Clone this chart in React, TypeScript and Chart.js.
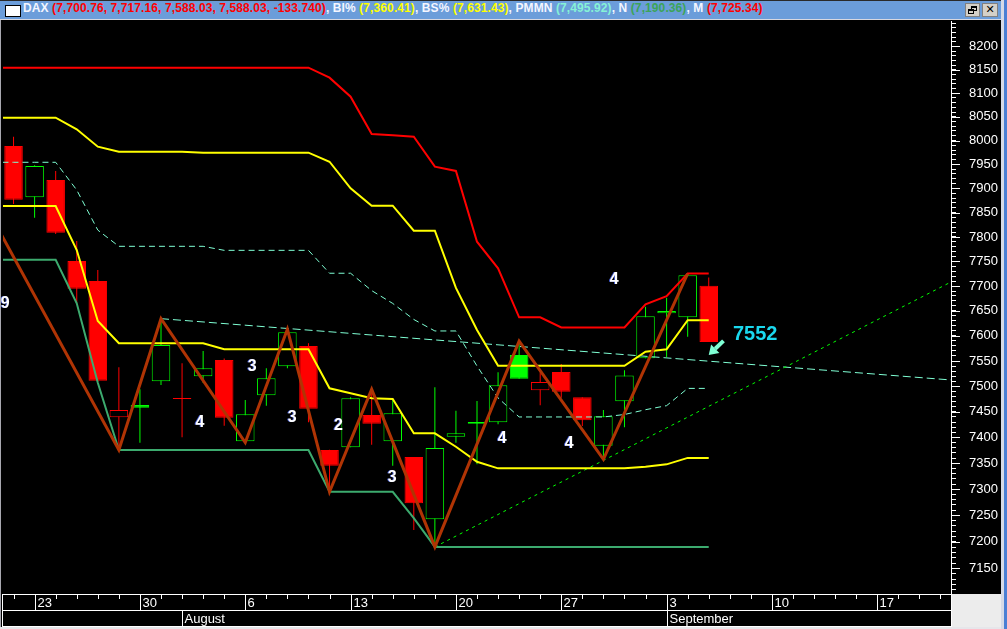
import React, { useEffect, useRef } from 'react';
import { Chart, registerables } from 'chart.js';

Chart.register(...registerables);

// ---------------- data ----------------
// trading days shown on the x axis (Jul 20 .. Sep 20), index 0..44
const dayNumbers = [20, 23, 24, 25, 26, 27, 30, 31, 1, 2, 3, 6, 7, 8, 9, 10, 13, 14, 15, 16, 17, 20, 21, 22, 23, 24, 27, 28, 29, 30, 31, 3, 4, 5, 6, 7, 10, 11, 12, 13, 14, 17, 18, 19, 20];
const weekLabelIdx = [1, 6, 11, 16, 21, 26, 31, 36, 41];
const monthLabels = ['August', 'September'];
const monthLabelIdx = [8, 31];

// daily candles (index 0 = Jul 20)
const opens = [7988.5, 7881.6, 7917.5, 7750.8, 7710.3, 7439.3, 7463.3, 7509.9, 7477.0, 7519.8, 7552.0, 7392.4, 7482.4, 7539.5, 7579.9, 7375.6, 7380.8, 7443.8, 7392.4, 7362.0, 7242.6, 7401.4, 7430.0, 7429.4, 7561.9, 7492.2, 7528.3, 7478.4, 7383.9, 7470.6, 7555.4, 7645.2, 7637.2, 7700.76];
const highs = [8008.0, 7948.0, 7936.3, 7791.9, 7732.5, 7537.5, 7494.0, 7634.4, 7545.4, 7569.9, 7555.0, 7472.9, 7535.6, 7613.2, 7585.2, 7376.0, 7478.4, 7494.1, 7472.9, 7362.0, 7498.0, 7452.1, 7471.0, 7527.7, 7589.5, 7527.7, 7544.0, 7478.4, 7453.5, 7531.9, 7658.4, 7676.4, 7725.34, 7717.16];
const lows = [7867.7, 7839.5, 7806.0, 7665.3, 7509.0, 7376.0, 7389.7, 7502.6, 7400.2, 7506.5, 7422.8, 7390.0, 7462.0, 7535.6, 7429.4, 7295.2, 7380.8, 7385.8, 7345.2, 7222.2, 7190.36, 7389.7, 7347.9, 7425.5, 7515.0, 7462.8, 7477.7, 7422.2, 7357.6, 7419.7, 7555.4, 7558.0, 7598.4, 7588.03];
const closes = [7876.6, 7946.7, 7808.7, 7694.7, 7511.1, 7453.5, 7458.0, 7581.8, 7475.0, 7535.6, 7438.5, 7445.1, 7515.8, 7607.2, 7456.1, 7345.2, 7476.5, 7426.7, 7447.0, 7273.1, 7379.4, 7408.0, 7426.7, 7502.0, 7515.0, 7508.5, 7489.4, 7433.3, 7441.2, 7521.4, 7639.2, 7650.0, 7721.77, 7588.03];

// indicator lines, starting one trading day before the first candle (index -1 = Jul 19)
const lineStartIndex = -1;
const mLine = [8154.5, 8154.5, 8154.5, 8154.5, 8154.5, 8154.5, 8154.5, 8154.5, 8154.5, 8154.5, 8154.5, 8154.5, 8154.5, 8154.5, 8154.5, 8154.5, 8133.1, 8092.6, 8013.6, 8010.9, 8008.0, 7945.2, 7936.3, 7790.2, 7736.0, 7637.2, 7637.2, 7616.8, 7616.8, 7616.8, 7616.8, 7663.3, 7679.6, 7725.34, 7725.34];
const bsLine = [8048.1, 8048.1, 8048.1, 8048.1, 8023.6, 7987.0, 7976.6, 7976.6, 7976.6, 7976.6, 7974.5, 7974.5, 7974.5, 7974.5, 7974.5, 7974.5, 7955.6, 7900.2, 7864.3, 7864.3, 7812.8, 7812.8, 7696.2, 7611.8, 7540.7, 7540.7, 7540.7, 7540.7, 7540.7, 7540.7, 7540.7, 7568.5, 7573.3, 7631.43, 7631.43];
const biLine = [7863.7, 7863.7, 7863.7, 7863.7, 7773.3, 7629.8, 7585.3, 7585.3, 7585.3, 7585.3, 7585.3, 7573.3, 7573.3, 7573.3, 7573.3, 7573.3, 7496.1, 7486.4, 7476.5, 7475.1, 7408.0, 7408.0, 7382.0, 7352.9, 7340.2, 7340.2, 7340.2, 7340.2, 7340.2, 7340.2, 7340.2, 7343.3, 7347.9, 7360.41, 7360.41];
const pmmnLine = [7954.4, 7954.4, 7954.4, 7954.4, 7896.7, 7814.0, 7780.8, 7780.8, 7780.8, 7780.8, 7780.8, 7772.6, 7772.6, 7772.6, 7772.6, 7772.6, 7726.0, 7726.0, 7690.9, 7665.0, 7632.8, 7609.8, 7609.8, 7540.1, 7477.1, 7439.9, 7439.9, 7439.9, 7439.9, 7439.9, 7444.7, 7454.1, 7462.0, 7495.92, 7495.92];
const nLine = [7753.5, 7753.5, 7753.5, 7753.5, 7665.3, 7507.0, 7375.6, 7375.6, 7375.6, 7375.6, 7375.6, 7375.6, 7375.6, 7375.6, 7375.6, 7375.6, 7295.2, 7295.2, 7295.2, 7295.2, 7245.0, 7190.36, 7190.36, 7190.36, 7190.36, 7190.36, 7190.36, 7190.36, 7190.36, 7190.36, 7190.36, 7190.36, 7190.36, 7190.36, 7190.36];

// zig-zag swing line
const zigzagX = [-1, 5, 7, 11, 13, 15, 17, 20, 24, 28, 32];
const zigzagY = [7838, 7375.6, 7634.4, 7390, 7613.2, 7295.2, 7494.1, 7190.36, 7589.5, 7357.6, 7725.34];

// trend lines
const resistX = [7, 44.5];
const resistY = [7634.4, 7512.5];
const supportX = [20, 44.5];
const supportY = [7190.36, 7708.3];

// wave count labels
const waveLabels = ['9', '4', '3', '3', '2', '3', '4', '4', '4'];
const waveX = [-0.4, 8.85, 11.33, 13.23, 15.42, 17.98, 23.2, 26.38, 28.51];
const waveY = [7664, 7428.7, 7538.7, 7439.3, 7422.2, 7322.2, 7398.3, 7388.6, 7712.3];

// projection annotation
const projText = '7552';
const projLabelX = 34.15;
const projLabelY = 7602;
const arrowX = [33.7, 33.0];
const arrowY = [7590, 7562];

// y axis
const yMin = 7102;
const yMax = 8255;
const yLabels = [7150, 7200, 7250, 7300, 7350, 7400, 7450, 7500, 7550, 7600, 7650, 7700, 7750, 7800, 7850, 7900, 7950, 8000, 8050, 8100, 8150, 8200];
const yMinorStep = 10;

// ---------------- styles ----------------
const UP = '#00ff00';
const DOWN = '#ff0000';
const YELLOW = '#ffff00';
const AQUA = '#7fffd4';
const NGREEN = '#3caa6e';
const ZIG = '#b03404';
const FONT = '"Liberation Sans", Arial, sans-serif';

function fmt(v: number, d = 2) {
  return v.toLocaleString('en-US', { minimumFractionDigits: d, maximumFractionDigits: d });
}

const overlayPlugin = {
  id: 'overlay',
  afterDatasetsDraw(chart: any) {
    const { ctx, scales } = chart;
    const x = scales.x;
    const y = scales.y;
    ctx.save();
    // wave labels
    ctx.font = 'bold 16px ' + FONT;
    ctx.textAlign = 'center';
    ctx.textBaseline = 'middle';
    waveLabels.forEach((t, i) => {
      const px = x.getPixelForValue(waveX[i]);
      const py = y.getPixelForValue(waveY[i]);
      ctx.fillStyle = 'rgba(80,110,255,0.8)';
      ctx.fillText(t, px - 1, py);
      ctx.fillStyle = '#ffffff';
      ctx.fillText(t, px, py);
    });
    // projection label
    ctx.font = 'bold 20px ' + FONT;
    ctx.textAlign = 'left';
    ctx.fillStyle = '#1ad8ee';
    ctx.fillText(projText, x.getPixelForValue(projLabelX), y.getPixelForValue(projLabelY));
    // arrow
    const tx = x.getPixelForValue(arrowX[0]);
    const ty = y.getPixelForValue(arrowY[0]);
    const hx = x.getPixelForValue(arrowX[1]);
    const hy = y.getPixelForValue(arrowY[1]);
    const len = Math.hypot(hx - tx, hy - ty);
    const dx = (hx - tx) / len;
    const dy = (hy - ty) / len;
    const head = 9;
    const half = 6;
    ctx.strokeStyle = AQUA;
    ctx.fillStyle = AQUA;
    ctx.lineWidth = 4;
    ctx.beginPath();
    ctx.moveTo(tx, ty);
    ctx.lineTo(hx - dx * head, hy - dy * head);
    ctx.stroke();
    ctx.beginPath();
    ctx.moveTo(hx, hy);
    ctx.lineTo(hx - dx * head - dy * half, hy - dy * head + dx * half);
    ctx.lineTo(hx - dx * head + dy * half, hy - dy * head - dx * half);
    ctx.closePath();
    ctx.fill();
    ctx.restore();
  },
  afterDraw(chart: any) {
    const { ctx, chartArea: a, scales } = chart;
    const x = scales.x;
    const y = scales.y;
    const W = chart.width;
    const H = chart.height;
    ctx.save();
    ctx.strokeStyle = '#ffffff';
    ctx.lineWidth = 1;
    // long ticks for labelled values
    yLabels.forEach((v) => {
      const py = Math.round(y.getPixelForValue(v)) + 0.5;
      ctx.beginPath();
      ctx.moveTo(a.right, py);
      ctx.lineTo(a.right + 9, py);
      ctx.stroke();
    });
    // date axis
    const top = a.bottom;
    const row = 16;
    ctx.fillStyle = '#000000';
    ctx.fillRect(0, top, a.right + 1, H - top);
    ctx.fillStyle = '#ececec';
    ctx.fillRect(a.right + 1, top, W - a.right - 1, H - top);
    const hl = (yy: number) => {
      ctx.beginPath();
      ctx.moveTo(2, yy);
      ctx.lineTo(a.right + 1, yy);
      ctx.stroke();
    };
    const vl = (xx: number, y0: number, y1: number) => {
      ctx.beginPath();
      ctx.moveTo(xx, y0);
      ctx.lineTo(xx, y1);
      ctx.stroke();
    };
    hl(top + 0.5);
    hl(top + row + 0.5);
    hl(H - 0.5);
    vl(2.5, top, H);
    vl(a.right + 0.5, top, H);
    ctx.fillStyle = '#ffffff';
    ctx.font = '13px ' + FONT;
    ctx.textAlign = 'left';
    ctx.textBaseline = 'middle';
    dayNumbers.forEach((d, i) => {
      const px = Math.round(x.getPixelForValue(i)) + 0.5;
      if (weekLabelIdx.includes(i)) {
        vl(px, top, top + row);
        ctx.fillText(String(d), px + 2, top + row / 2 + 1);
      } else {
        vl(px, top, top + 5);
      }
    });
    monthLabels.forEach((m, k) => {
      const px = Math.round(x.getPixelForValue(monthLabelIdx[k])) + 0.5;
      vl(px, top + row, H);
      ctx.fillText(m, px + 2, top + row + (H - top - row) / 2 + 1);
    });
    ctx.restore();
  },
};

export default function App() {
  const ref = useRef<HTMLCanvasElement>(null);

  const last = closes.length - 1;
  const header: [string, string][] = [
    ['DAX ', '#f4f6ff'],
    [`(${fmt(opens[last])}, ${fmt(highs[last])}, ${fmt(lows[last])}, ${fmt(closes[last])}, ${fmt(closes[last] - closes[last - 1], 3)})`, '#ff0000'],
    [', BI% ', '#f4f6ff'],
    [`(${fmt(biLine[biLine.length - 1])})`, YELLOW],
    [', BS% ', '#f4f6ff'],
    [`(${fmt(bsLine[bsLine.length - 1])})`, YELLOW],
    [', PMMN ', '#f4f6ff'],
    [`(${fmt(pmmnLine[pmmnLine.length - 1])})`, '#86f2d6'],
    [', N ', '#f4f6ff'],
    [`(${fmt(nLine[nLine.length - 1])})`, '#3ca458'],
    [', M ', '#f4f6ff'],
    [`(${fmt(mLine[mLine.length - 1])})`, '#ff0000'],
  ];

  useEffect(() => {
    document.body.style.margin = '0';
    const colors = closes.map((c, i) => ((i === 0 ? c >= opens[i] : c >= closes[i - 1]) ? UP : DOWN));
    const fills = closes.map((c, i) => (c < opens[i] ? colors[i] : '#000000'));
    const series = (arr: number[]) => arr.map((v, i) => ({ x: i + lineStartIndex, y: v }));
    const pts = (xs: number[], ys: number[]) => xs.map((xv, i) => ({ x: xv, y: ys[i] }));
    const lineBase = { type: 'line', pointRadius: 0, fill: false, tension: 0 };
    const yMinor: number[] = [];
    for (let v = Math.ceil(yMin / yMinorStep) * yMinorStep; v <= yMax; v += yMinorStep) yMinor.push(v);

    const chart = new Chart(ref.current as HTMLCanvasElement, {
      type: 'bar',
      data: {
        datasets: [
          {
            label: 'wick',
            data: lows.map((l, i) => ({ x: i, y: [l, highs[i]] })),
            backgroundColor: colors,
            borderWidth: 0,
            barThickness: 1,
            grouped: false,
            inflateAmount: 0,
            order: 20,
          },
          {
            label: 'body',
            data: opens.map((o, i) => ({ x: i, y: [o, closes[i]] })),
            backgroundColor: fills,
            borderColor: colors,
            borderWidth: 1,
            borderSkipped: false,
            barPercentage: 0.88,
            categoryPercentage: 1,
            grouped: false,
            inflateAmount: 0,
            order: 19,
          },
          { ...lineBase, label: 'PMMN', data: series(pmmnLine), borderColor: AQUA, borderWidth: 1, borderDash: [6, 4], order: 10 },
          { ...lineBase, label: 'resist', data: pts(resistX, resistY), borderColor: AQUA, borderWidth: 1, borderDash: [8, 4], order: 9 },
          { ...lineBase, label: 'support', data: pts(supportX, supportY), borderColor: UP, borderWidth: 1, borderDash: [3, 4], order: 8 },
          { ...lineBase, label: 'N', data: series(nLine), borderColor: NGREEN, borderWidth: 2, order: 7 },
          { ...lineBase, label: 'BI%', data: series(biLine), borderColor: YELLOW, borderWidth: 2, order: 6 },
          { ...lineBase, label: 'BS%', data: series(bsLine), borderColor: YELLOW, borderWidth: 2, order: 5 },
          { ...lineBase, label: 'M', data: series(mLine), borderColor: '#ff0000', borderWidth: 2, order: 4 },
          { ...lineBase, label: 'zigzag', data: pts(zigzagX, zigzagY), borderColor: ZIG, borderWidth: 3, order: 3 },
        ] as any,
      },
      options: {
        responsive: false,
        animation: false,
        events: [],
        layout: { padding: { left: 3, top: 0, right: 0, bottom: 0 } },
        plugins: { legend: { display: false }, tooltip: { enabled: false } },
        scales: {
          x: {
            type: 'linear',
            min: -0.5,
            max: 44.5,
            offset: false,
            grid: { display: false },
            border: { display: false },
            ticks: { display: false },
            afterFit: (s: any) => {
              s.height = 33;
              s.paddingLeft = 0;
              s.paddingRight = 0;
            },
          },
          y: {
            type: 'logarithmic',
            position: 'right',
            min: yMin,
            max: yMax,
            afterBuildTicks: (s: any) => {
              s.ticks = yMinor.map((v) => ({ value: v }));
            },
            afterFit: (s: any) => {
              s.width = 50;
              s.paddingTop = 0;
              s.paddingBottom = 0;
            },
            grid: { drawOnChartArea: false, drawTicks: true, tickLength: 5, tickColor: '#ffffff', color: '#ffffff' },
            border: { display: true, color: '#ffffff', width: 1 },
            ticks: {
              autoSkip: false,
              color: '#ffffff',
              padding: 13,
              font: { family: FONT, size: 13 },
              callback: (v: any) => (yLabels.includes(Number(v)) ? String(v) : ''),
            },
          },
        },
      } as any,
      plugins: [overlayPlugin],
    } as any);
    return () => chart.destroy();
  }, []);

  return (
    <div style={{ position: 'relative', width: 1007, height: 629, background: '#000', overflow: 'hidden' }}>
      {/* title bar */}
      <div
        style={{
          position: 'absolute', left: 0, top: 0, width: 1002, height: 20, background: '#6b9dda',
          borderTop: '1px solid #2a2a2a', borderBottom: '1px solid #d8d8e0', boxSizing: 'border-box',
        }}
      >
        <div style={{ position: 'absolute', left: 5, top: 4, width: 14, height: 10, background: '#fff', border: '1px solid #000' }} />
        <div
          style={{
            position: 'absolute', left: 23, top: 0, height: 18, lineHeight: '18px', whiteSpace: 'nowrap',
            font: 'bold 12px ' + FONT, letterSpacing: '0.1px',
          }}
        >
          {header.map(([t, c], i) => (
            <span key={i} style={{ color: c }}>{t}</span>
          ))}
        </div>
        <div style={{ position: 'absolute', left: 965, top: 2, width: 15, height: 14, background: '#d4d0c8', border: '1px solid #808080', boxSizing: 'border-box' }}>
          <div style={{ position: 'absolute', left: 5, top: 2, width: 6, height: 5, borderTop: '2px solid #000', borderRight: '1px solid #000', borderLeft: '1px solid #000', borderBottom: '1px solid #000', boxSizing: 'border-box' }} />
          <div style={{ position: 'absolute', left: 2, top: 5, width: 6, height: 5, background: '#d4d0c8', borderTop: '2px solid #000', borderRight: '1px solid #000', borderLeft: '1px solid #000', borderBottom: '1px solid #000', boxSizing: 'border-box' }} />
        </div>
        <div
          style={{
            position: 'absolute', left: 982, top: 2, width: 16, height: 14, background: '#d4d0c8', border: '1px solid #808080', boxSizing: 'border-box',
            font: 'bold 11px "DejaVu Sans", sans-serif', textAlign: 'center', lineHeight: '12px', color: '#000',
          }}
        >
          ✕
        </div>
      </div>
      {/* chart */}
      <div style={{ position: 'absolute', left: 0, top: 21, width: 1001, height: 606 }}>
        <canvas ref={ref} width={1001} height={606} style={{ display: 'block' }} />
      </div>
      {/* window borders */}
      <div style={{ position: 'absolute', left: 0, top: 20, width: 1, height: 609, background: '#a8a8b0' }} />
      <div style={{ position: 'absolute', left: 0, top: 627, width: 1007, height: 2, background: '#e6e6ea' }} />
      <div style={{ position: 'absolute', left: 1001, top: 0, width: 3, height: 629, background: '#d6dae6' }} />
      <div style={{ position: 'absolute', left: 1004, top: 0, width: 3, height: 629, background: '#4a7fd4' }} />
    </div>
  );
}
